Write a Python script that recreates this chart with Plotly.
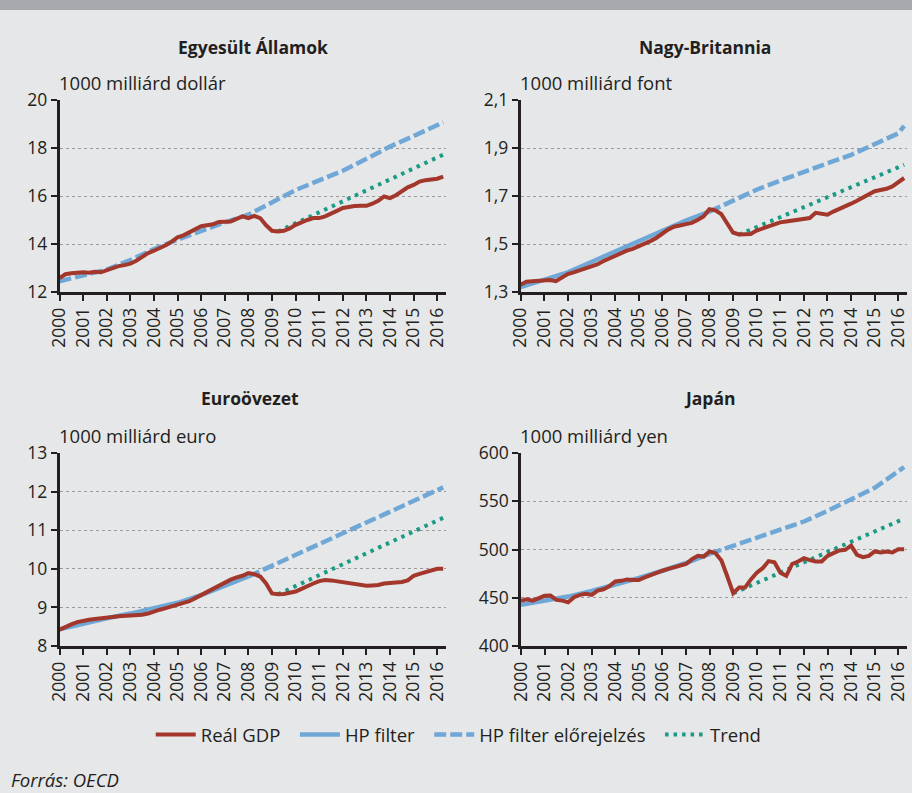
import plotly.graph_objects as go

# ---------------- data ----------------
quarter_labels = [f"{y}Q{q}" for y in range(2000, 2017) for q in range(1, 5)][:66]
year_ticks = list(range(2000, 2017))
year_text = [str(y) for y in year_ticks]

# Real GDP, quarterly 2000Q1-2016Q2 (1000 billion)
us_gdp = [12.58, 12.74, 12.78, 12.82, 12.82, 12.80, 12.84, 12.82,
          12.92, 13.00, 13.08, 13.12, 13.18, 13.30, 13.45, 13.62,
          13.72, 13.82, 13.95, 14.10, 14.28, 14.36, 14.50, 14.60,
          14.74, 14.78, 14.82, 14.92, 14.94, 14.94, 15.05, 15.15,
          15.08, 15.17, 15.08, 14.78, 14.55, 14.52, 14.55, 14.65,
          14.80, 14.92, 15.00, 15.08, 15.08, 15.15, 15.25, 15.38,
          15.50, 15.56, 15.58, 15.59, 15.59, 15.68, 15.80, 15.98,
          15.91, 16.03, 16.22, 16.36, 16.46, 16.60, 16.66, 16.70,
          16.72, 16.81]
uk_gdp = [1.330, 1.343, 1.345, 1.346, 1.348, 1.350, 1.345, 1.362,
          1.375, 1.382, 1.390, 1.398, 1.405, 1.415, 1.428, 1.440,
          1.452, 1.462, 1.472, 1.480, 1.490, 1.500, 1.512, 1.525,
          1.545, 1.560, 1.572, 1.578, 1.583, 1.588, 1.600, 1.615,
          1.645, 1.640, 1.625, 1.590, 1.548, 1.540, 1.540, 1.542,
          1.556, 1.565, 1.576, 1.583, 1.590, 1.594, 1.598, 1.603,
          1.607, 1.608, 1.630, 1.625, 1.622, 1.635, 1.645, 1.655,
          1.668, 1.680, 1.692, 1.705, 1.720, 1.725, 1.730, 1.740,
          1.758, 1.775]
ez_gdp = [8.42, 8.50, 8.56, 8.62, 8.66, 8.68, 8.70, 8.71,
          8.73, 8.75, 8.77, 8.78, 8.79, 8.79, 8.81, 8.84,
          8.90, 8.94, 8.98, 9.02, 9.06, 9.10, 9.16, 9.24,
          9.32, 9.42, 9.50, 9.58, 9.66, 9.72, 9.78, 9.82,
          9.89, 9.86, 9.80, 9.62, 9.36, 9.34, 9.35, 9.38,
          9.41, 9.48, 9.56, 9.62, 9.68, 9.71, 9.70, 9.68,
          9.64, 9.62, 9.60, 9.58, 9.56, 9.57, 9.58, 9.62,
          9.63, 9.65, 9.66, 9.70, 9.82, 9.87, 9.91, 9.94,
          10.00, 10.00]
jp_gdp = [446.7, 448.5, 447.0, 449.5, 452.0, 452.3, 447.8, 447.0,
          445.3, 450.5, 453.0, 454.0, 453.0, 457.4, 458.8, 462.0,
          466.8, 467.5, 469.0, 468.5, 468.5, 471.0, 473.7, 476.0,
          478.0, 480.0, 481.7, 483.5, 485.0, 490.0, 493.4, 492.7,
          498.0, 496.2, 488.6, 472.0, 454.7, 460.5, 460.5, 469.0,
          476.0, 480.6, 488.0, 486.8, 476.0, 472.7, 485.0, 487.5,
          491.0, 489.0, 487.5, 487.5, 493.4, 496.2, 499.0, 499.7,
          504.0, 494.4, 492.0, 493.4, 498.0, 497.0, 498.0, 497.0,
          500.3, 500.3]

# HP filter, yearly readings (last point = end of sample)
hp_x = [2000, 2001, 2002, 2003, 2004, 2005, 2006, 2007, 2008,
        2009, 2010, 2011, 2012, 2013, 2014, 2015, 2016, 2016.25]
us_hp = [12.45, 12.68, 12.93, 13.33, 13.79, 14.18, 14.56, 14.90, 15.22,
         15.74, 16.25, 16.65, 17.05, 17.55, 18.06, 18.50, 18.96, 19.07]
uk_hp = [1.320, 1.350, 1.382, 1.425, 1.469, 1.512, 1.559, 1.598, 1.635,
         1.681, 1.726, 1.764, 1.802, 1.836, 1.871, 1.914, 1.961, 1.992]
ez_hp = [8.43, 8.58, 8.72, 8.84, 8.97, 9.12, 9.32, 9.56, 9.80,
         10.08, 10.36, 10.62, 10.91, 11.20, 11.49, 11.76, 12.05, 12.11]
jp_hp = [442.6, 446.5, 451.2, 457.0, 463.3, 470.5, 478.0, 486.0, 495.5,
         504.0, 511.8, 520.0, 529.0, 540.0, 551.6, 564.0, 581.0, 585.5]
# year from which the HP filter is a forecast (US: shown as forecast throughout)
us_fc_start, uk_fc_start, ez_fc_start, jp_fc_start = 2000, 2008, 2008, 2008

# Trend lines (start, end)
us_trend_x, us_trend = [2009.25, 2016.25], [14.52, 17.72]
uk_trend_x, uk_trend = [2009.25, 2016.25], [1.539, 1.830]
ez_trend_x, ez_trend = [2009.25, 2016.25], [9.34, 11.32]
jp_trend_x, jp_trend = [2009.0, 2016.25], [454.7, 532.0]

titles = ["Egyesült Államok", "Nagy-Britannia", "Euroövezet", "Japán"]
units = ["1000 milliárd dollár", "1000 milliárd font", "1000 milliárd euro", "1000 milliárd yen"]
series_names = ["Reál GDP", "HP filter", "HP filter előrejelzés", "Trend"]

# ---------------- styling ----------------
RED = "#a3372b"
BLUE = "#6fa8d6"
GREEN = "#1b9a86"
BG = "#e6e7e8"
AX = "#231f20"
FONT = "Open Sans"
W, H = 912, 793
PAD = "\u00a0\u00a0"

gdp_x = [2000 + i * 0.25 for i in range(len(quarter_labels))]

panels = [
    (us_gdp, us_hp, us_fc_start, us_trend_x, us_trend),
    (uk_gdp, uk_hp, uk_fc_start, uk_trend_x, uk_trend),
    (ez_gdp, ez_hp, ez_fc_start, ez_trend_x, ez_trend),
    (jp_gdp, jp_hp, jp_fc_start, jp_trend_x, jp_trend),
]

# pixel boxes of plot areas (left, right, top, bottom)
boxes = [(59.5, 446, 100, 292), (520.5, 907, 100, 292),
         (59.5, 446, 453, 646), (521, 907, 453, 646)]
yranges = [(12, 20, 2, ".0f"), (1.3, 2.1, 0.2, ".1f"), (8, 13, 1, ".0f"), (400, 600, 50, ".0f")]

fig = go.Figure()
for i, (gdp, hp, fc, tx, ty) in enumerate(panels):
    n = "" if i == 0 else str(i + 1)
    xa, ya = "x" + n, "y" + n
    sl = i == 1
    sx = [x for x in hp_x if x <= fc]
    sy = [v for x, v in zip(hp_x, hp) if x <= fc]
    if len(sx) > 1:
        fig.add_trace(go.Scatter(x=sx, y=sy, mode="lines", xaxis=xa, yaxis=ya,
                                 line=dict(color=BLUE, width=4.5), name=series_names[1] + PAD,
                                 legendgroup="hp", showlegend=sl, legendrank=2))
    fx = [x for x in hp_x if x >= fc]
    fy = [v for x, v in zip(hp_x, hp) if x >= fc]
    fig.add_trace(go.Scatter(x=fx, y=fy, mode="lines", xaxis=xa, yaxis=ya,
                             line=dict(color=BLUE, width=4.5, dash="12px,4px"),
                             name=series_names[2] + PAD, legendgroup="hpf",
                             showlegend=sl, legendrank=3))
    fig.add_trace(go.Scatter(x=tx, y=ty, mode="lines", xaxis=xa, yaxis=ya,
                             line=dict(color=GREEN, width=4, dash="3.5px,5px"),
                             name=series_names[3], legendgroup="tr", showlegend=sl, legendrank=4))
    fig.add_trace(go.Scatter(x=gdp_x, y=gdp, mode="lines", xaxis=xa, yaxis=ya,
                             line=dict(color=RED, width=4), name=series_names[0] + PAD,
                             legendgroup="gdp", showlegend=sl, legendrank=1))

layout = dict(
    width=W, height=H, margin=dict(l=0, r=0, t=0, b=0, pad=0, autoexpand=False),
    paper_bgcolor=BG, plot_bgcolor=BG,
    font=dict(family=FONT, size=17, color=AX),
    separators=", ",
    legend=dict(orientation="h", x=0.503, xanchor="center", y=1 - 735 / H, yanchor="middle",
                font=dict(size=18.5, color=AX), bgcolor="rgba(0,0,0,0)",
                itemwidth=40, tracegroupgap=0),
    shapes=[dict(type="rect", xref="paper", yref="paper", x0=0, x1=1,
                 y0=1 - 10 / H, y1=1, fillcolor="#a7a9ac", line=dict(width=0), layer="above")],
    annotations=[],
)
for i, ((l, r, t, b), (y0, y1, dy, fmt)) in enumerate(zip(boxes, yranges)):
    n = "" if i == 0 else str(i + 1)
    layout["xaxis" + n] = dict(
        domain=[l / W, r / W], anchor="y" + n, range=[2000, 2016.37],
        tickmode="array", tickvals=year_ticks, ticktext=year_text, tickangle=-90,
        showgrid=False, zeroline=False, showline=True, linecolor=AX, linewidth=2.5,
        ticks="outside", ticklen=6, tickwidth=2, tickcolor=AX, automargin=False,
        tickfont=dict(size=17.5, color=AX), fixedrange=True)
    layout["yaxis" + n] = dict(
        domain=[1 - b / H, 1 - t / H], anchor="x" + n, range=[y0, y1],
        tick0=y0, dtick=dy, tickformat=fmt,
        showgrid=True, gridcolor="#9a9a9a", griddash="dot", gridwidth=1.2,
        zeroline=False, showline=True, linecolor=AX, linewidth=2.5, automargin=False,
        ticks="outside", ticklen=6, tickwidth=2, tickcolor=AX,
        tickfont=dict(size=17.5, color=AX), fixedrange=True)
    layout["annotations"].append(dict(
        text="<b>" + titles[i] + "</b>", xref="paper", yref="paper",
        x=[253, 705, 250, 710][i] / W, y=1 - (47 if t < 200 else 398) / H,
        xanchor="center", yanchor="middle", showarrow=False,
        font=dict(size=17.5, color=AX)))
    layout["annotations"].append(dict(
        text=units[i], xref="paper", yref="paper",
        x=(l - 3) / W, y=1 - (t - 18) / H, xanchor="left", yanchor="middle",
        showarrow=False, font=dict(size=18.5, color=AX)))
layout["annotations"].append(dict(
    text="<i>Forrás: OECD</i>", xref="paper", yref="paper", x=9 / W, y=1 - 779 / H,
    xanchor="left", yanchor="middle", showarrow=False, font=dict(size=18.5, color=AX)))

fig.update_layout(**layout)
fig.write_html(
    "out.html",
    config={"displayModeBar": False},
    post_script=(
        "document.documentElement.style.margin='0';"
        "document.body.style.margin='0';document.body.style.padding='0';"
        "document.body.style.overflow='hidden';"
        "document.body.style.background='" + BG + "';"
        "var gd=document.querySelector('.plotly-graph-div');"
        "gd.style.position='absolute';gd.style.left='0px';gd.style.top='0px';"
    ),
)
